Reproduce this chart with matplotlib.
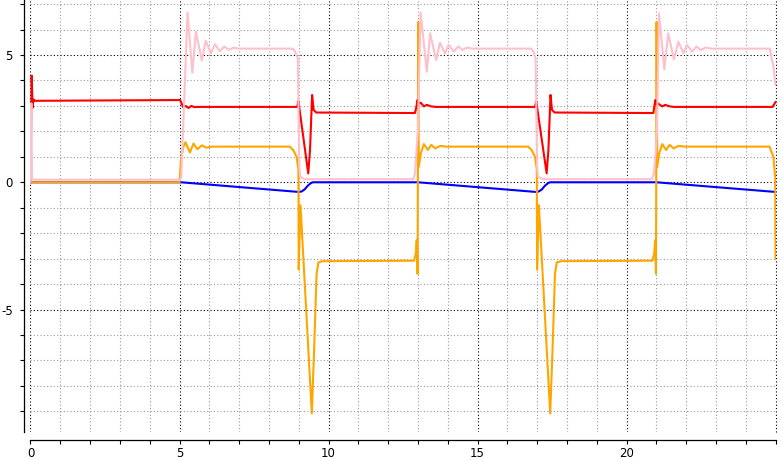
import matplotlib
matplotlib.use("Agg")
import matplotlib.pyplot as plt
from matplotlib.ticker import MultipleLocator, FixedLocator

plt.rcParams['axes.unicode_minus'] = False

# ---------------- data ----------------
blue_t = [0, 5.05, 9.0, 9.1, 9.2, 9.3, 9.4, 9.47, 13.0, 16.96, 17.06, 17.16, 17.26, 17.36, 17.43, 21.0, 25.0]
blue_v = [0, 0, -0.38, -0.36, -0.28, -0.14, -0.04, 0, 0, -0.38, -0.36, -0.28, -0.14, -0.04, 0, 0, -0.38]

orange_t = [0, 5.0, 5.05, 5.13, 5.2, 5.35, 5.47, 5.6, 5.75, 5.9, 6.1, 8.7, 8.82, 8.93, 8.99,
            9.0, 9.06, 9.44, 9.52, 9.6, 9.66, 9.8, 12.87, 12.93, 12.96, 12.99, 13.01, 13.03,
            13.1, 13.2, 13.33, 13.45, 13.58, 13.75, 13.95, 16.7, 16.82, 16.93, 16.99,
            17.0, 17.06, 17.44, 17.52, 17.6, 17.66, 17.8, 20.87, 20.93, 20.96, 20.99, 21.01, 21.03,
            21.1, 21.2, 21.33, 21.45, 21.58, 21.75, 21.95, 24.8, 24.93, 24.99, 25.0]
orange_v = [0, 0, 0.9, 1.4, 1.57, 1.17, 1.52, 1.3, 1.45, 1.36, 1.4, 1.4, 1.26, 1.0, 0.5,
            -3.43, -0.9, -9.08, -6.5, -3.6, -3.15, -3.1, -3.08, -2.8, -2.28, -3.6, 6.3, 0.6,
            1.14, 1.5, 1.27, 1.47, 1.33, 1.43, 1.4, 1.4, 1.26, 1.0, 0.5,
            -3.43, -0.9, -9.08, -6.5, -3.6, -3.15, -3.1, -3.08, -2.8, -2.28, -3.6, 6.3, 0.6,
            1.14, 1.5, 1.27, 1.47, 1.33, 1.43, 1.4, 1.4, 1.0, 0.2, -3.0]

red_t = [0, 0.04, 0.07, 0.1, 0.15, 5.02, 5.13, 5.2, 5.3, 5.4, 5.5, 5.6, 8.95, 8.99, 9.32, 9.38,
         9.45, 9.5, 9.59, 12.9, 12.95, 12.98, 13.05, 13.1, 13.2, 13.3, 13.45, 13.6,
         16.93, 16.97, 17.32, 17.38, 17.45, 17.5, 17.59, 20.9, 20.93, 20.97, 21.0, 21.05,
         21.2, 21.3, 21.45, 21.6, 24.9, 25.0]
red_v = [0, 4.19, 2.92, 3.25, 3.2, 3.23, 2.94, 3.0, 2.92, 3.0, 2.95, 2.96, 2.96, 3.19, 0.35, 1.27,
         3.43, 2.84, 2.74, 2.72, 2.96, 3.23, 3.1, 3.12, 2.98, 3.04, 2.98, 2.96,
         2.96, 3.19, 0.35, 1.27, 3.43, 2.84, 2.74, 2.72, 2.96, 3.23, 3.05, 3.1,
         2.98, 3.04, 2.98, 2.96, 2.96, 3.15]

pink_t = [0, 0.03, 0.05, 0.1, 5.02, 5.06, 5.27, 5.43, 5.55, 5.75, 5.88, 6.05, 6.19, 6.35, 6.5, 6.65,
          6.8, 7.0, 8.8, 8.88, 8.97, 9.02, 9.05, 9.2, 12.85, 12.9, 12.95, 13.0, 13.09, 13.3, 13.41,
          13.61, 13.74, 13.91, 14.03, 14.2, 14.35, 14.5, 14.65, 14.85, 16.8, 16.88, 16.95, 17.0,
          17.03, 17.2, 20.85, 20.92, 20.98, 21.02, 21.09, 21.27, 21.40, 21.59, 21.74, 21.91,
          22.03, 22.2, 22.35, 22.5, 22.65, 22.85, 24.81, 24.93, 25.0]
pink_v = [0, 3.1, 0.15, 0.1, 0.1, 0.2, 6.67, 4.3, 5.92, 4.78, 5.56, 5.07, 5.42, 5.15, 5.33, 5.2,
          5.28, 5.25, 5.25, 5.13, 4.87, 0.6, 0.21, 0.12, 0.12, 0.35, 1.2, 2.0, 6.67, 4.34, 5.85,
          4.8, 5.48, 5.07, 5.4, 5.13, 5.33, 5.2, 5.29, 5.25, 5.25, 5.13, 4.87, 0.6,
          0.21, 0.12, 0.12, 0.35, 1.19, 2.0, 6.64, 4.44, 5.85, 4.83, 5.52, 5.07,
          5.4, 5.13, 5.33, 5.2, 5.29, 5.25, 5.25, 4.54, 3.82]

x_major = [0, 5, 10, 15, 20]
y_major = [-5, 0, 5]

# ---------------- figure ----------------
W, H = 781, 461
fig = plt.figure(figsize=(W / 100, H / 100), dpi=100)
left, right = 30.5 / W, 775.5 / W
bottom, top = 1 - 432 / H, 1.0
ax = fig.add_axes([left, bottom, right - left, top - bottom])

lw = 1.5
ax.plot(blue_t, blue_v, color='blue', lw=lw, zorder=3)
ax.plot(orange_t, orange_v, color='orange', lw=lw, zorder=4)
ax.plot(red_t, red_v, color='red', lw=lw, zorder=5)
ax.plot(pink_t, pink_v, color='pink', lw=lw, zorder=6)

ax.set_xlim(0, 25)
ax.set_ylim(-9.81, 7.16)

ax.xaxis.set_major_locator(FixedLocator(x_major))
ax.xaxis.set_minor_locator(MultipleLocator(1))
ax.yaxis.set_major_locator(FixedLocator(y_major))
ax.yaxis.set_minor_locator(MultipleLocator(1))
ax.set_xticklabels([str(v) for v in x_major])
ax.set_yticklabels([str(v) for v in y_major])

dot = (0, (1, 2))
ax.grid(True, which='major', color='black', linestyle=dot, linewidth=0.8)
ax.grid(True, which='minor', color='#999999', linestyle=dot, linewidth=0.8)
ax.axvline(25, color='black', linestyle=dot, linewidth=0.8, clip_on=False, zorder=1)
ax.set_axisbelow(True)

for s in ['top', 'right']:
    ax.spines[s].set_visible(False)
ax.spines['left'].set_position(('outward', 5))
ax.spines['bottom'].set_position(('outward', 6))
ax.spines['left'].set_linewidth(0.9)
ax.spines['bottom'].set_linewidth(0.9)

ax.tick_params(which='both', direction='out', length=2.6, width=0.8, color='black')
ax.tick_params(axis='y', which='major', labelsize=8.5, pad=5)
ax.tick_params(axis='x', which='major', labelsize=8.5, pad=2.5)

fig.savefig('out.png', dpi=100)
